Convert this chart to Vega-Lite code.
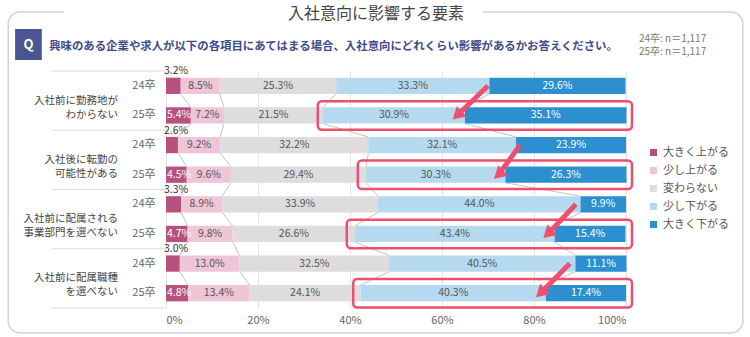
{
  "$schema": "https://vega.github.io/schema/vega-lite/v6.json",
  "width": 460,
  "height": 237,
  "autosize": {"type": "none"},
  "padding": {"left": 166, "top": 71, "right": 124, "bottom": 29},
  "background": "white",
  "title": {"text": "入社意向に影響する要素", "anchor": "middle", "frame": "group", "dx": -20, "offset": -21, "baseline": "middle", "fontSize": 16, "fontWeight": "normal", "color": "#444444", "font": "Noto Sans CJK JP"},
  "config": {"font": "Noto Sans CJK JP", "view": {"stroke": null}},
  "datasets": {
    "d": [
      {"g": 1, "year": "24卒", "row": "1|24卒", "seg": "大きく上がる", "o": 1, "v": 3.2},
      {"g": 1, "year": "24卒", "row": "1|24卒", "seg": "少し上がる", "o": 2, "v": 8.5},
      {"g": 1, "year": "24卒", "row": "1|24卒", "seg": "変わらない", "o": 3, "v": 25.3},
      {"g": 1, "year": "24卒", "row": "1|24卒", "seg": "少し下がる", "o": 4, "v": 33.3},
      {"g": 1, "year": "24卒", "row": "1|24卒", "seg": "大きく下がる", "o": 5, "v": 29.6},
      {"g": 1, "year": "25卒", "row": "1|25卒", "seg": "大きく上がる", "o": 1, "v": 5.4},
      {"g": 1, "year": "25卒", "row": "1|25卒", "seg": "少し上がる", "o": 2, "v": 7.2},
      {"g": 1, "year": "25卒", "row": "1|25卒", "seg": "変わらない", "o": 3, "v": 21.5},
      {"g": 1, "year": "25卒", "row": "1|25卒", "seg": "少し下がる", "o": 4, "v": 30.9},
      {"g": 1, "year": "25卒", "row": "1|25卒", "seg": "大きく下がる", "o": 5, "v": 35.1},
      {"g": 2, "year": "24卒", "row": "2|24卒", "seg": "大きく上がる", "o": 1, "v": 2.6},
      {"g": 2, "year": "24卒", "row": "2|24卒", "seg": "少し上がる", "o": 2, "v": 9.2},
      {"g": 2, "year": "24卒", "row": "2|24卒", "seg": "変わらない", "o": 3, "v": 32.2},
      {"g": 2, "year": "24卒", "row": "2|24卒", "seg": "少し下がる", "o": 4, "v": 32.1},
      {"g": 2, "year": "24卒", "row": "2|24卒", "seg": "大きく下がる", "o": 5, "v": 23.9},
      {"g": 2, "year": "25卒", "row": "2|25卒", "seg": "大きく上がる", "o": 1, "v": 4.5},
      {"g": 2, "year": "25卒", "row": "2|25卒", "seg": "少し上がる", "o": 2, "v": 9.6},
      {"g": 2, "year": "25卒", "row": "2|25卒", "seg": "変わらない", "o": 3, "v": 29.4},
      {"g": 2, "year": "25卒", "row": "2|25卒", "seg": "少し下がる", "o": 4, "v": 30.3},
      {"g": 2, "year": "25卒", "row": "2|25卒", "seg": "大きく下がる", "o": 5, "v": 26.3},
      {"g": 3, "year": "24卒", "row": "3|24卒", "seg": "大きく上がる", "o": 1, "v": 3.3},
      {"g": 3, "year": "24卒", "row": "3|24卒", "seg": "少し上がる", "o": 2, "v": 8.9},
      {"g": 3, "year": "24卒", "row": "3|24卒", "seg": "変わらない", "o": 3, "v": 33.9},
      {"g": 3, "year": "24卒", "row": "3|24卒", "seg": "少し下がる", "o": 4, "v": 44.0},
      {"g": 3, "year": "24卒", "row": "3|24卒", "seg": "大きく下がる", "o": 5, "v": 9.9},
      {"g": 3, "year": "25卒", "row": "3|25卒", "seg": "大きく上がる", "o": 1, "v": 4.7},
      {"g": 3, "year": "25卒", "row": "3|25卒", "seg": "少し上がる", "o": 2, "v": 9.8},
      {"g": 3, "year": "25卒", "row": "3|25卒", "seg": "変わらない", "o": 3, "v": 26.6},
      {"g": 3, "year": "25卒", "row": "3|25卒", "seg": "少し下がる", "o": 4, "v": 43.4},
      {"g": 3, "year": "25卒", "row": "3|25卒", "seg": "大きく下がる", "o": 5, "v": 15.4},
      {"g": 4, "year": "24卒", "row": "4|24卒", "seg": "大きく上がる", "o": 1, "v": 3.0},
      {"g": 4, "year": "24卒", "row": "4|24卒", "seg": "少し上がる", "o": 2, "v": 13.0},
      {"g": 4, "year": "24卒", "row": "4|24卒", "seg": "変わらない", "o": 3, "v": 32.5},
      {"g": 4, "year": "24卒", "row": "4|24卒", "seg": "少し下がる", "o": 4, "v": 40.5},
      {"g": 4, "year": "24卒", "row": "4|24卒", "seg": "大きく下がる", "o": 5, "v": 11.1},
      {"g": 4, "year": "25卒", "row": "4|25卒", "seg": "大きく上がる", "o": 1, "v": 4.8},
      {"g": 4, "year": "25卒", "row": "4|25卒", "seg": "少し上がる", "o": 2, "v": 13.4},
      {"g": 4, "year": "25卒", "row": "4|25卒", "seg": "変わらない", "o": 3, "v": 24.1},
      {"g": 4, "year": "25卒", "row": "4|25卒", "seg": "少し下がる", "o": 4, "v": 40.3},
      {"g": 4, "year": "25卒", "row": "4|25卒", "seg": "大きく下がる", "o": 5, "v": 17.4}
    ],
    "cats": [
      {"row": "1|24卒", "lab": "入社前に勤務地が\nわからない"},
      {"row": "2|24卒", "lab": "入社後に転勤の\n可能性がある"},
      {"row": "3|24卒", "lab": "入社前に配属される\n事業部門を選べない"},
      {"row": "4|24卒", "lab": "入社前に配属職種\nを選べない"}
    ],
    "boxes": [
      {"row": "1|25卒", "bs": 33.0, "be": 101.3},
      {"row": "2|25卒", "bs": 41.7, "be": 101.3},
      {"row": "3|25卒", "bs": 39.3, "be": 101.3},
      {"row": "4|25卒", "bs": 40.7, "be": 101.3}
    ],
    "arrows": [
      {"row": "1|24卒", "nrow": "1|25卒", "xt": 70.0, "xh": 63.3},
      {"row": "2|24卒", "nrow": "2|25卒", "xt": 77.0, "xh": 72.3},
      {"row": "3|24卒", "nrow": "3|25卒", "xt": 89.1, "xh": 83.0},
      {"row": "4|24卒", "nrow": "4|25卒", "xt": 87.8, "xh": 81.4}
    ]
  },
  "layer": [
    {
      "data": {"values": [{}]},
      "mark": {"type": "bar", "height": 321, "yOffset": 86.7, "fill": "white", "fillOpacity": 0, "stroke": "#d2d2d2", "strokeWidth": 1.5, "cornerRadius": 12},
      "encoding": {
        "x": {"datum": -34.3, "type": "quantitative"},
        "x2": {"datum": 125.4},
        "y": {"datum": "1|24卒", "type": "nominal"}
      }
    },
    {
      "data": {"values": [{}]},
      "mark": {"type": "bar", "height": 6, "yOffset": -73.8, "fill": "white", "strokeWidth": 0},
      "encoding": {
        "x": {"datum": -22.2, "type": "quantitative"},
        "x2": {"datum": 68.9},
        "y": {"datum": "1|24卒", "type": "nominal"}
      }
    },
    {
      "data": {"name": "cats"},
      "mark": {"type": "rule", "yOffset": -14.8, "color": "#dddddd", "strokeWidth": 1},
      "encoding": {
        "x": {"datum": -25, "type": "quantitative"},
        "x2": {"datum": 0},
        "y": {"field": "row", "type": "nominal"}
      }
    },
    {
      "data": {"values": [{"row": "4|25卒"}]},
      "mark": {"type": "rule", "yOffset": 14.8, "color": "#dddddd", "strokeWidth": 1},
      "encoding": {
        "x": {"datum": -25, "type": "quantitative"},
        "x2": {"datum": 0},
        "y": {"field": "row", "type": "nominal"}
      }
    },
    {
      "data": {"name": "d"},
      "transform": [
        {"stack": "v", "groupby": ["row"], "sort": [{"field": "o", "order": "ascending"}], "as": ["x0", "x1"]},
        {"window": [{"op": "lead", "field": "x1", "as": "nx1"}, {"op": "lead", "field": "row", "as": "nrow"}], "groupby": ["seg"], "sort": [{"field": "g", "order": "ascending"}, {"field": "year", "order": "ascending"}]},
        {"filter": "datum.nrow != null && datum.seg != '大きく下がる'"}
      ],
      "mark": {"type": "rule", "color": "#c4c4c4", "strokeWidth": 1, "yOffset": 8.1, "y2Offset": -8.1},
      "encoding": {
        "x": {"field": "x1", "type": "quantitative"},
        "x2": {"field": "nx1"},
        "y": {"field": "row", "type": "nominal"},
        "y2": {"field": "nrow"}
      }
    },
    {
      "data": {"name": "d"},
      "transform": [
        {"stack": "v", "groupby": ["row"], "sort": [{"field": "o", "order": "ascending"}], "as": ["x0", "x1"]}
      ],
      "mark": {"type": "bar"},
      "encoding": {
        "x": {"field": "x0", "type": "quantitative", "scale": {"domain": [0, 100], "nice": false, "zero": false},
          "axis": {"values": [0, 20, 40, 60, 80, 100], "labelExpr": "datum.value + '%'", "domain": false, "ticks": false, "grid": true, "gridColor": "#e4e4e4", "gridWidth": 1, "labelPadding": 6, "labelFontSize": 11, "labelColor": "#666666", "title": null}},
        "x2": {"field": "x1"},
        "y": {"field": "row", "type": "nominal", "sort": null,
          "scale": {"domain": ["1|24卒", "1|25卒", "2|24卒", "2|25卒", "3|24卒", "3|25卒", "4|24卒", "4|25卒"], "paddingInner": 0.45, "paddingOuter": 0.225},
          "axis": {"labelExpr": "split(datum.value, '|')[1]", "domain": false, "ticks": false, "grid": false, "labelPadding": 11, "labelFontSize": 11, "labelColor": "#666666", "title": null}},
        "color": {"field": "seg", "type": "nominal",
          "scale": {"domain": ["大きく上がる", "少し上がる", "変わらない", "少し下がる", "大きく下がる"], "range": ["#b9517e", "#efc5d8", "#dedcdd", "#b5d9ee", "#2b8fd0"]},
          "legend": {"orient": "none", "legendX": 482, "legendY": 76, "title": null, "symbolType": "square", "symbolSize": 50, "symbolStrokeWidth": 0, "labelFontSize": 11, "labelColor": "#555555", "rowPadding": 6, "labelOffset": 4}}
      }
    },
    {
      "data": {"name": "d"},
      "transform": [
        {"stack": "v", "groupby": ["row"], "sort": [{"field": "o", "order": "ascending"}], "as": ["x0", "x1"]},
        {"filter": "datum.o > 1"},
        {"calculate": "(datum.x0 + datum.x1) / 2", "as": "mid"},
        {"calculate": "format(datum.v, '.1f') + '%'", "as": "lab"}
      ],
      "mark": {"type": "text", "fontSize": 10.5, "baseline": "middle", "align": "center"},
      "encoding": {
        "x": {"field": "mid", "type": "quantitative"},
        "y": {"field": "row", "type": "nominal"},
        "text": {"field": "lab", "type": "nominal"},
        "color": {"condition": {"test": "datum.o == 5", "value": "white"}, "value": "#555555"}
      }
    },
    {
      "data": {"name": "d"},
      "transform": [
        {"filter": "datum.o == 1 && datum.year == '25卒'"},
        {"calculate": "format(datum.v, '.1f') + '%'", "as": "lab"}
      ],
      "mark": {"type": "text", "fontSize": 10.5, "baseline": "middle", "align": "left", "dx": 1, "color": "white"},
      "encoding": {
        "x": {"datum": 0, "type": "quantitative"},
        "y": {"field": "row", "type": "nominal"},
        "text": {"field": "lab", "type": "nominal"}
      }
    },
    {
      "data": {"name": "d"},
      "transform": [
        {"filter": "datum.o == 1 && datum.year == '24卒'"},
        {"calculate": "format(datum.v, '.1f') + '%'", "as": "lab"}
      ],
      "mark": {"type": "text", "fontSize": 10.5, "baseline": "middle", "align": "left", "dx": -2, "dy": -14.5, "color": "#333333"},
      "encoding": {
        "x": {"datum": 0, "type": "quantitative"},
        "y": {"field": "row", "type": "nominal"},
        "text": {"field": "lab", "type": "nominal"}
      }
    },
    {
      "data": {"name": "cats"},
      "mark": {"type": "text", "fontSize": 10.5, "baseline": "middle", "align": "right", "dx": -48, "dy": 14.8, "lineBreak": "\n", "lineHeight": 14, "color": "#444444"},
      "encoding": {
        "x": {"datum": 0, "type": "quantitative"},
        "y": {"field": "row", "type": "nominal"},
        "text": {"field": "lab", "type": "nominal"}
      }
    },
    {
      "data": {"name": "boxes"},
      "mark": {"type": "bar", "height": {"band": 1.75}, "fill": "white", "fillOpacity": 0, "stroke": "#ec4f6f", "strokeWidth": 2.5, "cornerRadius": 4},
      "encoding": {
        "x": {"field": "bs", "type": "quantitative"},
        "x2": {"field": "be"},
        "y": {"field": "row", "type": "nominal"}
      }
    },
    {
      "data": {"name": "arrows"},
      "mark": {"type": "rule", "color": "#ee4f6f", "strokeWidth": 5},
      "encoding": {
        "x": {"field": "xt", "type": "quantitative"},
        "x2": {"field": "xh"},
        "y": {"field": "row", "type": "nominal"},
        "y2": {"field": "nrow"}
      }
    },
    {
      "data": {"name": "arrows"},
      "mark": {"type": "point", "shape": "triangle-up", "filled": true, "size": 200, "angle": 227, "color": "#ee4f6f", "opacity": 1},
      "encoding": {
        "x": {"field": "xh", "type": "quantitative"},
        "y": {"field": "nrow", "type": "nominal"}
      }
    },
    {
      "data": {"values": [{}]},
      "mark": {"type": "bar", "height": 31, "yOffset": -41.3, "fill": "#4b5592", "strokeWidth": 0},
      "encoding": {
        "x": {"datum": -32.8, "type": "quantitative"},
        "x2": {"datum": -27.0},
        "y": {"datum": "1|24卒", "type": "nominal"}
      }
    },
    {
      "data": {"values": [{}]},
      "mark": {"type": "text", "text": "Q", "fontSize": 13, "fontWeight": "bold", "color": "white", "align": "center", "baseline": "middle", "dy": -41.3},
      "encoding": {
        "x": {"datum": -29.9, "type": "quantitative"},
        "y": {"datum": "1|24卒", "type": "nominal"}
      }
    },
    {
      "data": {"values": [{}]},
      "mark": {"type": "text", "text": "興味のある企業や求人が以下の各項目にあてはまる場合、入社意向にどれくらい影響があるかお答えください。", "fontSize": 11.4, "fontWeight": "bold", "color": "#3d4a8c", "align": "left", "baseline": "middle", "dy": -39},
      "encoding": {
        "x": {"datum": -25.4, "type": "quantitative"},
        "y": {"datum": "1|24卒", "type": "nominal"}
      }
    },
    {
      "data": {"values": [{}]},
      "mark": {"type": "text", "text": ["24卒: n＝1,117", "25卒: n＝1,117"], "fontSize": 10, "lineHeight": 13.5, "color": "#777777", "align": "left", "baseline": "middle", "dx": 13, "dy": -47},
      "encoding": {
        "x": {"datum": 100, "type": "quantitative"},
        "y": {"datum": "1|24卒", "type": "nominal"}
      }
    }
  ]
}
